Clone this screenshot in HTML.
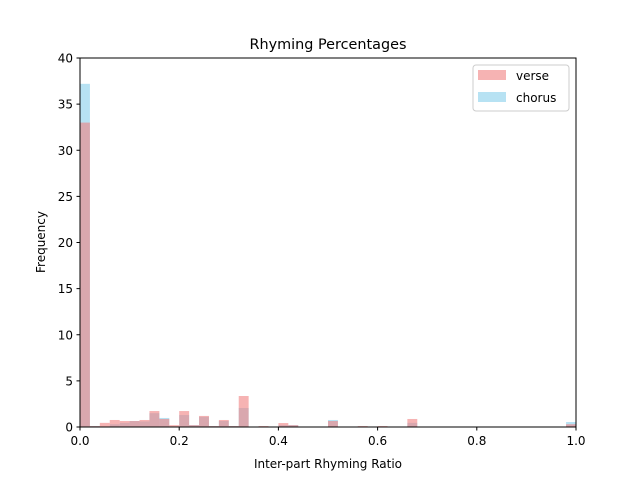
<!DOCTYPE html>
<html><head><meta charset="utf-8"><style>
body{margin:0;background:#fff;font-family:"Liberation Sans","DejaVu Sans",sans-serif;}
svg text{font-family:"DejaVu Sans","Liberation Sans",sans-serif;}
</style></head><body>
<svg id="chart" width="640" height="480" xmlns="http://www.w3.org/2000/svg">
<rect width="640" height="480" fill="#fff"/>
<text x="328" y="49" font-size="14.4" text-anchor="middle">Rhyming Percentages</text>
<g id="bars"></g>
<g id="axes"></g>
<text x="328" y="468" font-size="12" text-anchor="middle">Inter-part Rhyming Ratio</text>
<text transform="translate(45,242) rotate(-90)" font-size="12" text-anchor="middle">Frequency</text>
<g>
<rect x="473" y="65" width="96" height="46" rx="3" fill="#fff" fill-opacity="0.8" stroke="#ccc"/>
<rect x="478" y="70" width="28" height="10" fill="#f08080" fill-opacity="0.6"/>
<text x="516" y="80" font-size="12">verse</text>
<rect x="478" y="92" width="28" height="10" fill="#87ceeb" fill-opacity="0.6"/>
<text x="516" y="102" font-size="12">chorus</text>
</g>
</svg>
<script>
const binCount = 50;
const verseValues = [33,0.1,0.45,0.76,0.65,0.65,0.76,1.73,0.87,0.2,1.73,0.2,1.2,0.1,0.76,0.1,3.36,0,0.1,0,0.43,0.2,0,0,0,0.65,0,0,0.1,0,0.1,0,0,0.87,0,0,0,0,0,0,0,0,0,0,0,0,0,0,0,0.3];
const chorusValues = [37.2,0.1,0,0.3,0.45,0.65,0.6,1.5,0.98,0,1.3,0.2,1.1,0.1,0.65,0.1,2.06,0,0,0,0.2,0.2,0,0,0,0.76,0,0,0,0,0,0,0,0.45,0,0,0,0,0,0,0,0,0,0,0,0,0,0,0,0.54];
const xTicks = ["0.0","0.2","0.4","0.6","0.8","1.0"];
const yTicks = [0,5,10,15,20,25,30,35,40];
const X0=80,X1=576,Y0=427,Y1=58;
const xs=v=>X0+(X1-X0)*v;
const ys=v=>Y0-(Y0-Y1)*v/40;
const NS="http://www.w3.org/2000/svg";
const bars=document.getElementById('bars');
function drawSeries(vals,color,name){
  vals.forEach((v,i)=>{
    if(v<=0)return;
    const r=document.createElementNS(NS,'rect');
    const a=xs(i/binCount),b=xs((i+1)/binCount);
    r.setAttribute('x',a);r.setAttribute('width',b-a);
    r.setAttribute('y',ys(v));r.setAttribute('height',Y0-ys(v));
    r.setAttribute('fill',color);r.setAttribute('fill-opacity','0.6');
    
    
    bars.appendChild(r);
  });
}
drawSeries(chorusValues,'#87ceeb','chorus');
drawSeries(verseValues,'#f08080','verse');
const ax=document.getElementById('axes');
let h='<rect x="80" y="58" width="496" height="369" fill="none" stroke="#000" stroke-width="1"/>';
xTicks.forEach((t,i)=>{const x=xs(i/(xTicks.length-1));
 h+=`<line x1="${x}" x2="${x}" y1="427" y2="430.5" stroke="#000"/><text x="${x}" y="445" font-size="12" text-anchor="middle">${t}</text>`;});
yTicks.forEach(t=>{const y=ys(t);
 h+=`<line x1="76.5" x2="80" y1="${y}" y2="${y}" stroke="#000"/><text x="73" y="${y+4.5}" font-size="12" text-anchor="end">${t}</text>`;});
ax.innerHTML=h;


</script>
</body></html>
